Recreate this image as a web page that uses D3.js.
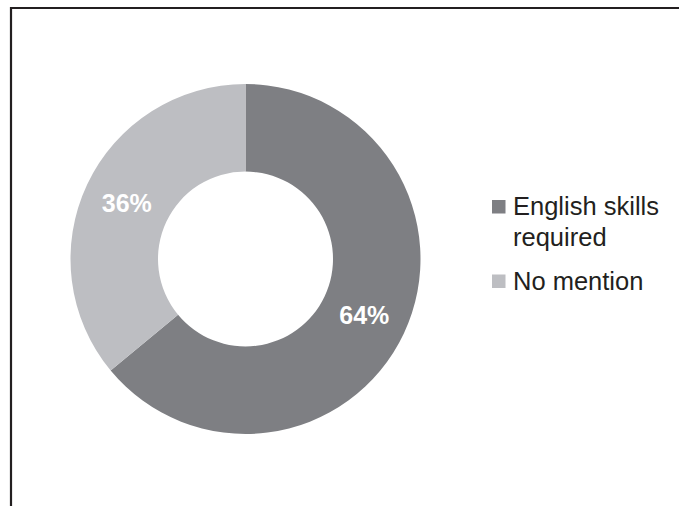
<!DOCTYPE html>
<html>
<head>
<meta charset="utf-8">
<script src="https://cdn.jsdelivr.net/npm/d3@7"></script>
<style>
  html, body { margin: 0; padding: 0; background: #ffffff; }
  svg { display: block; }
</style>
</head>
<body>
<svg id="chart" width="679" height="506"></svg>
<script>
const categories = ["English skills required", "No mention"];
const legendLines = [["English skills", "required"], ["No mention"]];
const values = [64, 36];
const valueLabels = ["64%", "36%"];
const colors = ["#7e7f83", "#bdbec2"];

const svg = d3.select("#chart");
const W = 679, H = 506;

// frame (top and left edges)
svg.append("path")
  .attr("d", `M11,${H} L11,8 L${W},8`)
  .attr("fill", "none")
  .attr("stroke", "#231f20")
  .attr("stroke-width", 2.2);

const cx = 245.5, cy = 259, rOuter = 175, rInner = 87.5;
const pie = d3.pie().sort(null).value(d => d)(values);
const arc = d3.arc().innerRadius(rInner).outerRadius(rOuter);
const labelArc = d3.arc().innerRadius((rInner + rOuter) / 2).outerRadius((rInner + rOuter) / 2);

const g = svg.append("g").attr("transform", `translate(${cx},${cy})`);
g.selectAll("path.slice")
  .data(pie)
  .join("path")
  .attr("class", "slice")
  .attr("d", arc)
  .attr("fill", (d, i) => colors[i]);

g.selectAll("text.val")
  .data(pie)
  .join("text")
  .attr("class", "val")
  .attr("transform", d => `translate(${labelArc.centroid(d)})`)
  .attr("text-anchor", "middle")
  .attr("dy", "0.36em")
  .attr("font-family", "Liberation Sans, Arial, sans-serif")
  .attr("font-weight", "bold")
  .attr("font-size", 25)
  .attr("fill", "#ffffff")
  .text((d, i) => valueLabels[i]);

// legend
const legendX = 492, sq = 13.5;
const legendYs = [215, 289.5];
const lg = svg.append("g");
categories.forEach((c, i) => {
  const by = legendYs[i];
  lg.append("rect")
    .attr("x", legendX).attr("y", by - 15)
    .attr("width", sq).attr("height", sq)
    .attr("fill", colors[i]);
  const t = lg.append("text")
    .attr("x", legendX + 21).attr("y", by)
    .attr("font-family", "Liberation Sans, Arial, sans-serif")
    .attr("font-size", 25.5)
    .attr("fill", "#231f20");
  legendLines[i].forEach((ln, j) => {
    t.append("tspan").attr("x", legendX + 21).attr("dy", j === 0 ? 0 : 31).text(ln);
  });
});
</script>
</body>
</html>
